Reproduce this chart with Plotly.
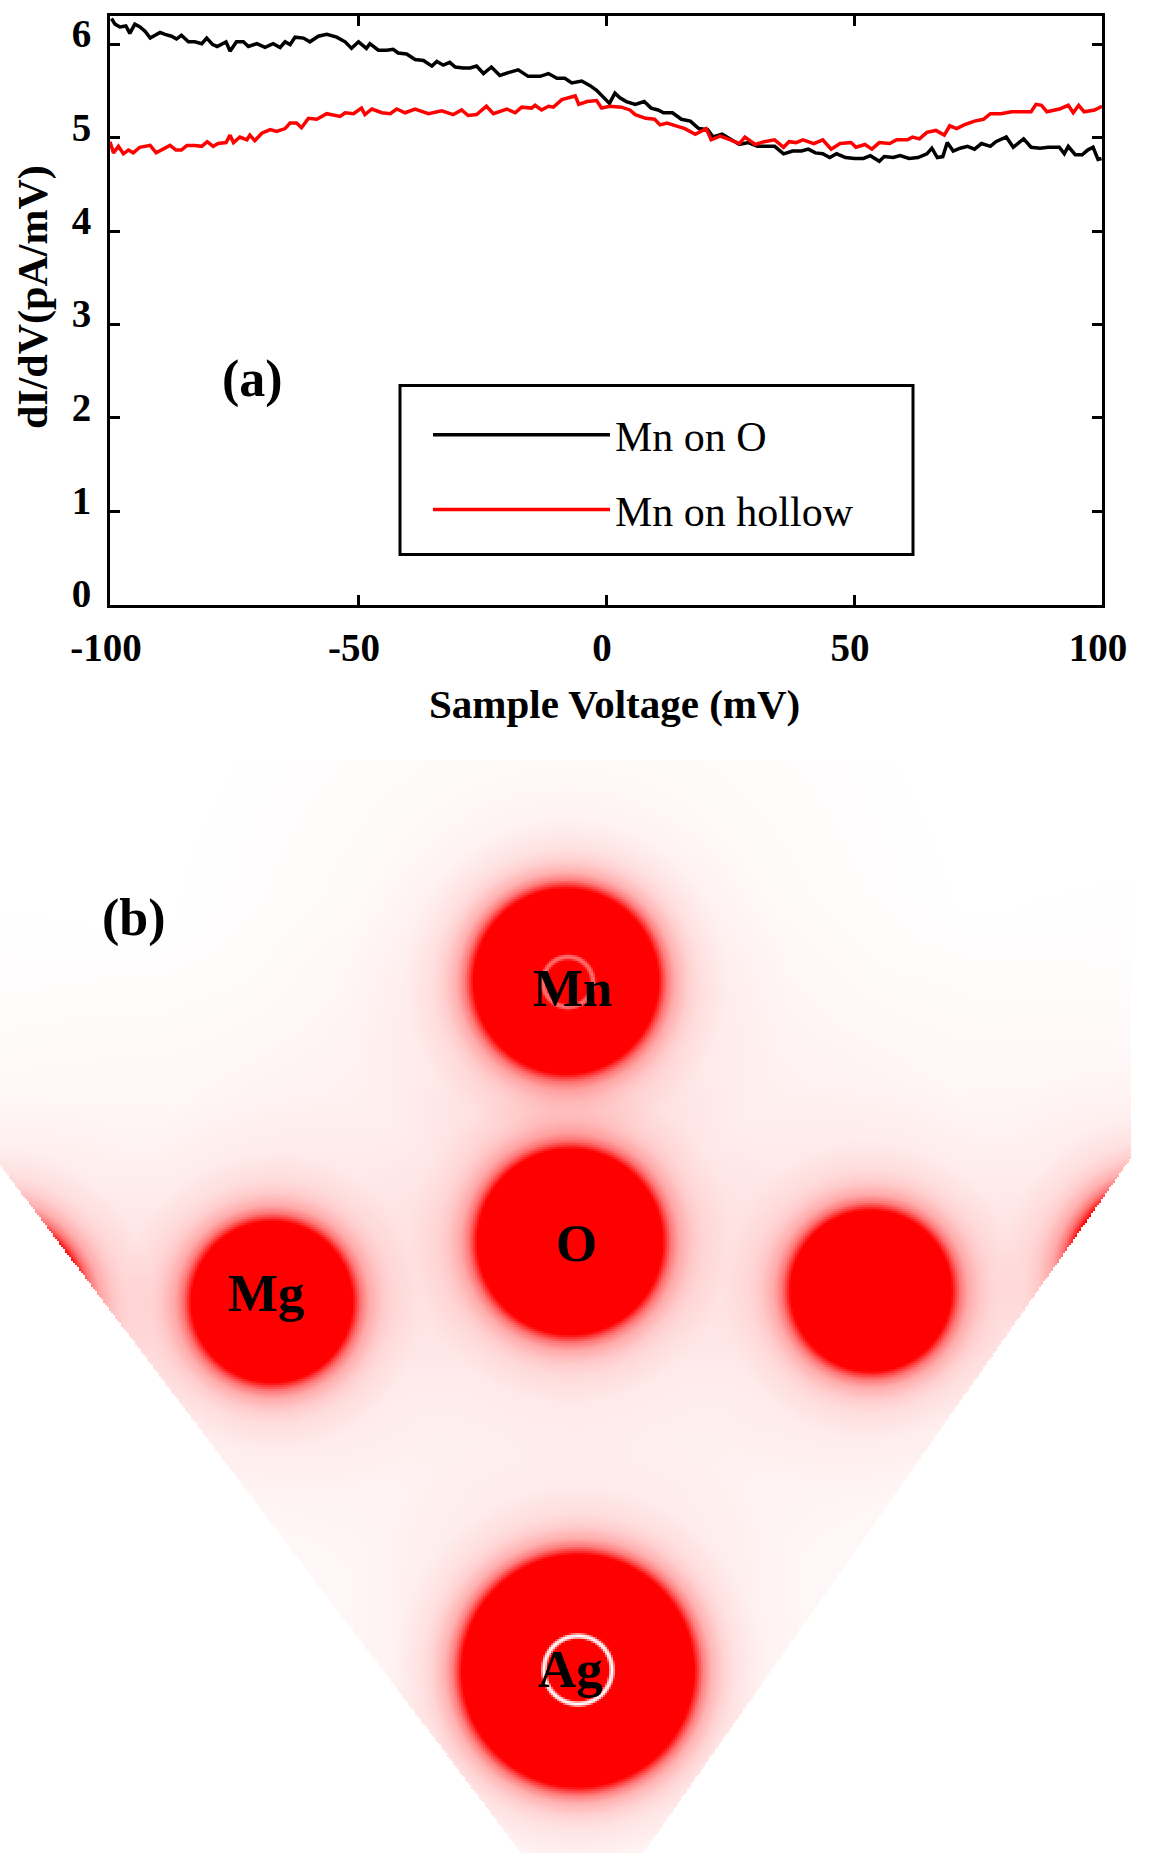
import numpy as np
import plotly.graph_objects as go

# ---- panel (a): dI/dV spectra ----
V_MN_ON_O = [-99.7,-99.0,-98.0,-96.8,-96.0,-95.0,-93.95,-92.9,-91.9,-90.9,-89.9,-88.9,-87.6,-86.6,-85.6,-84.2,-82.9,-81.5,-80.5,-79.3,-78.4,-76.6,-75.8,-74.5,-73.1,-72.1,-70.4,-68.75,-67.1,-65.7,-64.7,-63.7,-62.7,-61.0,-59.7,-58.0,-56.3,-54.3,-52.6,-51.3,-49.9,-48.3,-47.6,-45.9,-44.2,-42.9,-41.9,-40.2,-38.5,-36.8,-35.1,-34.1,-32.8,-31.5,-30.4,-28.8,-27.4,-26.1,-24.7,-23.1,-21.4,-19.7,-17.7,-15.7,-13.3,-11.6,-9.9,-8.3,-6.9,-4.9,-3.2,-1.9,-0.5,0.7,1.8,2.8,4.1,5.9,7.7,9.1,10.5,11.6,13.4,15.2,17.0,18.7,20.5,21.6,23.4,24.8,26.9,28.7,30.5,32.3,34.0,35.8,37.6,39.4,40.8,42.2,43.7,45.1,46.5,48.3,50.1,51.9,53.3,55.1,56.1,57.9,59.3,61.1,62.9,64.7,65.7,66.8,67.9,68.8,70.0,71.4,72.9,74.3,75.7,77.5,78.6,80.7,82.1,84.2,85.7,87.5,89.2,91.4,92.4,93.2,94.6,96.0,97.1,98.2,99.2,99.9]
I_MN_ON_O = [6.28,6.22,6.19,6.20,6.12,6.22,6.19,6.14,6.07,6.10,6.13,6.11,6.09,6.06,6.10,6.03,6.03,6.01,6.07,6.00,5.98,6.03,5.93,6.03,6.03,5.98,6.01,5.97,6.01,5.97,6.03,6.00,6.08,6.07,6.03,6.09,6.11,6.08,6.03,5.96,6.03,5.96,6.01,5.94,5.94,5.95,5.91,5.90,5.84,5.83,5.77,5.82,5.78,5.81,5.76,5.75,5.75,5.77,5.69,5.76,5.67,5.70,5.73,5.66,5.66,5.69,5.64,5.64,5.59,5.61,5.56,5.51,5.44,5.37,5.48,5.43,5.39,5.36,5.39,5.32,5.30,5.27,5.27,5.20,5.18,5.10,5.09,5.01,5.04,5.00,4.93,4.95,4.91,4.91,4.91,4.83,4.86,4.86,4.88,4.84,4.83,4.79,4.83,4.79,4.78,4.78,4.81,4.75,4.80,4.79,4.81,4.78,4.79,4.83,4.89,4.79,4.80,4.95,4.86,4.89,4.91,4.88,4.94,4.91,4.96,5.01,4.90,4.99,4.90,4.89,4.90,4.90,4.83,4.91,4.82,4.82,4.87,4.90,4.77,4.78]

V_MN_ON_HOLLOW = [-100,-99.3,-98.3,-97.3,-96.3,-95.3,-94.0,-91.9,-90.7,-89.2,-87.9,-86.7,-85.6,-84.5,-82.9,-81.5,-80.4,-79.2,-78.2,-76.6,-75.8,-75.1,-73.8,-72.4,-71.8,-70.8,-69.4,-67.7,-66.4,-64.7,-63.7,-62.4,-61.4,-60.0,-58.3,-56.3,-53.6,-52.6,-50.9,-49.3,-48.6,-47.2,-45.2,-43.5,-42.2,-40.5,-38.5,-35.8,-33.1,-30.8,-29.1,-27.8,-26.1,-24.1,-22.7,-20.0,-18.3,-17.0,-15.0,-14.3,-13.0,-11.6,-10.6,-8.9,-6.2,-5.5,-3.8,-1.9,-0.9,0.8,2.5,3.1,4.8,5.9,8.0,9.8,10.9,12.3,14.1,15.9,18.0,20.2,21.2,23.0,25.1,26.9,28.0,30.1,31.9,34.0,35.8,36.9,38.3,39.7,41.9,43.7,45.4,47.2,49.4,50.4,52.2,53.6,55.1,57.2,58.6,60.8,61.8,63.2,64.7,66.5,68.2,69.3,70.7,72.2,74.3,76.1,77.5,79.6,81.8,83.5,85.7,86.7,87.8,88.9,91.4,93.2,94.2,95.3,96.4,98.5,100]
I_MN_ON_HOLLOW = [4.96,4.84,4.91,4.83,4.87,4.84,4.90,4.92,4.84,4.88,4.92,4.87,4.87,4.92,4.92,4.91,4.96,4.91,4.94,4.95,5.03,4.95,5.01,4.98,5.03,4.97,5.05,5.09,5.07,5.10,5.16,5.16,5.11,5.21,5.20,5.26,5.23,5.27,5.26,5.32,5.25,5.31,5.27,5.26,5.31,5.27,5.31,5.26,5.29,5.25,5.30,5.24,5.25,5.34,5.26,5.31,5.27,5.33,5.32,5.35,5.30,5.34,5.33,5.41,5.45,5.36,5.39,5.40,5.32,5.34,5.33,5.33,5.30,5.25,5.21,5.20,5.14,5.16,5.13,5.10,5.04,5.10,4.98,5.02,4.98,4.94,5.01,4.93,4.96,4.98,4.90,4.96,4.95,4.98,4.94,4.98,4.88,4.94,4.95,4.90,4.93,4.88,4.95,4.94,4.98,4.98,5.01,4.99,5.06,5.08,5.03,5.13,5.10,5.14,5.18,5.20,5.26,5.26,5.28,5.28,5.28,5.36,5.35,5.28,5.31,5.35,5.27,5.35,5.28,5.30,5.34]

X_TICKS = [-100, -50, 0, 50, 100]
X_TICK_TEXT = ["-100", "-50", "0", "50", "100"]
Y_TICKS = [0, 1, 2, 3, 4, 5, 6]

# ---- panel (b): atoms (image pixels) ----
ATOM_X = [566, 570, 272, 871, 578, -13, 1166]
ATOM_Y = [981, 1242, 1302, 1291, 1671, 1312, 1279]
ATOM_R = [92, 92, 80, 80, 116, 98, 98]
# brightness against distance outside the saturated disc
RIM_DIST = [-500, 0, 4, 9, 17, 30, 42, 70, 130, 220, 320]
RIM_LEVEL = [1.0, 1.0, 0.76, 0.5, 0.3, 0.17, 0.11, 0.05, 0.022, 0.01, 0.0]
# faint rings on the adsorbate and substrate atoms: x, y, radius, depth
RING_X = [568, 578]
RING_Y = [982, 1670]
RING_R = [25, 34]
RING_DEPTH = [0.45, 1.0]
ATOM_LABEL = ["Mn", "O", "Mg", "Ag"]
LABEL_X = [573, 576, 266, 570]
LABEL_Y = [988, 1243, 1293, 1669]

GRID_STEP = 2
gx = np.arange(0, 1152, GRID_STEP)
gy = np.arange(760, 1854, GRID_STEP)
XX, YY = np.meshgrid(gx, gy)
field = np.zeros_like(XX, dtype=float)
for ax_, ay_, ar_ in zip(ATOM_X, ATOM_Y, ATOM_R):
    dist = np.hypot(XX - ax_, YY - ay_) - ar_
    field += np.interp(dist, RIM_DIST, RIM_LEVEL)
field = np.clip(field, 0, 1)
for rx_, ry_, rr_, rd_ in zip(RING_X, RING_Y, RING_R, RING_DEPTH):
    off = np.abs(np.hypot(XX - rx_, YY - ry_) - rr_)
    field *= 1 - rd_ * np.interp(off, [0, 1.5, 3.5], [1, 0.8, 0])
inside = (YY < 1165 + 1.32 * XX) & (YY < 1158 + 1.425 * (1131 - XX)) & (XX <= 1131)
field[~inside] = np.nan

W, H = 1151, 1853
fig = go.Figure()
fig.add_trace(go.Heatmap(x=gx, y=gy, z=field, xaxis="x2", yaxis="y2", zmin=0, zmax=1,
                         colorscale=[[0, "rgb(255,255,255)"], [1, "rgb(255,0,0)"]],
                         showscale=False, hoverinfo="skip", showlegend=False))
fig.add_trace(go.Scatter(x=V_MN_ON_O, y=I_MN_ON_O, mode="lines", name="Mn on O",
                         legendgroup="a", line=dict(color="black", width=3.5)))
fig.add_trace(go.Scatter(x=V_MN_ON_HOLLOW, y=I_MN_ON_HOLLOW, mode="lines", name="Mn on hollow",
                         legendgroup="b", line=dict(color="#ff0000", width=3.5)))

SERIF = "Liberation Serif"
BOLD = lambda s: dict(family=SERIF, size=s, color="black", weight="bold")
axis_common = dict(showline=True, linecolor="black", linewidth=3, mirror="ticks",
                   ticks="inside", ticklen=10, tickwidth=3, tickcolor="black",
                   showgrid=False, zeroline=False, tickfont=BOLD(39))
fig.update_layout(
    width=W, height=H, margin=dict(l=0, r=0, t=0, b=0, autoexpand=False),
    paper_bgcolor="white", plot_bgcolor="white", showlegend=True,
    xaxis=dict(domain=[110 / W, 1102 / W], range=[-100, 100], tickvals=X_TICKS, ticktext=X_TICK_TEXT,
               ticklabelstandoff=7, ticklabelshift=-4, **axis_common),
    yaxis=dict(domain=[1 - 604.5 / H, 1 - 15.7 / H], range=[0, 6.31], tickvals=Y_TICKS,
               ticklabelstandoff=8, ticklabelshift=-11, **axis_common),
    xaxis2=dict(domain=[0, 1], range=[0, W], visible=False, anchor="y2"),
    yaxis2=dict(domain=[0, (H - 760) / H], range=[H, 760], visible=False, anchor="x2"),
    legend=dict(x=428 / W, xanchor="left", y=1 - 401 / H, yanchor="top",
                bgcolor="rgba(0,0,0,0)", borderwidth=0, itemwidth=177,
                tracegroupgap=17, itemclick=False, itemdoubleclick=False,
                font=dict(family=SERIF, size=42, color="black")),
    shapes=[dict(type="rect", xref="paper", yref="paper", x0=400 / W, x1=913 / W,
                 y0=1 - 554.5 / H, y1=1 - 385.5 / H, line=dict(color="black", width=3),
                 fillcolor="white", layer="above")],
)
for t, x_, y_ in zip(ATOM_LABEL, LABEL_X, LABEL_Y):
    fig.add_annotation(x=x_, y=y_, xref="x2", yref="y2", text=t, showarrow=False,
                       xanchor="center", yanchor="middle", font=BOLD(53))
fig.add_annotation(x=134, y=918, xref="x2", yref="y2", text="(b)", showarrow=False,
                   xanchor="center", yanchor="middle", font=BOLD(52))
paper_labels = [("(a)", 252, 379, 52, 0), ("Sample Voltage (mV)", 614, 704, 41, 0),
                ("dI/dV(pA/mV)", 33, 297, 42, -90)]
for t, x_, y_, s_, a_ in paper_labels:
    fig.add_annotation(x=x_ / W, y=1 - y_ / H, xref="paper", yref="paper", text=t, showarrow=False,
                       xanchor="center", yanchor="middle", textangle=a_, font=BOLD(s_))

fig.write_html("out.html", post_script="document.body.style.margin='0';",
               config={"displayModeBar": False})
